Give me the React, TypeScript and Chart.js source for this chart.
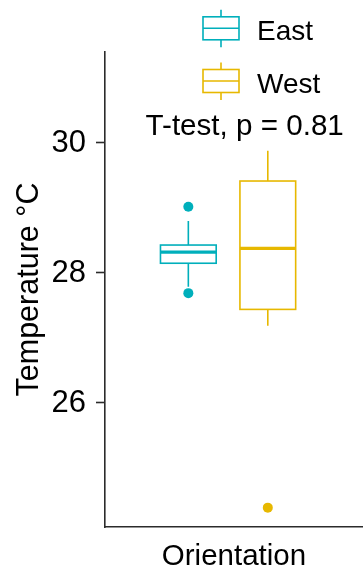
import React, { useEffect, useRef } from 'react';
import { Chart, registerables } from 'chart.js';

Chart.register(...registerables);

// Summary statistics per orientation
const groups = ['East', 'West'];
const groupColors = ['#00AFBB', '#E7B800'];
const lowerWhisker = [27.79, 27.19];
const q1 = [28.15, 27.44];
const median = [28.32, 28.38];
const q3 = [28.43, 29.415];
const upperWhisker = [28.8, 29.88];
const outliers = [[29.02, 27.69], [24.39]];

const yTicks = [26, 28, 30];
const testLabel = 'T-test, p = 0.81';
const xTitle = 'Orientation';
const yTitle = 'Temperature °C';

// dodged group positions on a 0..1 x range
const groupX = [0.323, 0.631];
const halfBox = 0.108;
const FONT = "Arial, 'Liberation Sans', sans-serif";

const boxPlugin = {
  id: 'boxes',
  beforeDatasetsDraw(chart: any) {
    const { ctx, scales } = chart;
    const xs = scales.x;
    const ys = scales.y;
    ctx.save();
    groups.forEach((_, i) => {
      const c = groupColors[i];
      const cx = xs.getPixelForValue(groupX[i]);
      const l = xs.getPixelForValue(groupX[i] - halfBox);
      const r = xs.getPixelForValue(groupX[i] + halfBox);
      const yq1 = ys.getPixelForValue(q1[i]);
      const yq3 = ys.getPixelForValue(q3[i]);
      const ymed = ys.getPixelForValue(median[i]);
      const ylo = ys.getPixelForValue(lowerWhisker[i]);
      const yhi = ys.getPixelForValue(upperWhisker[i]);
      ctx.strokeStyle = c;
      ctx.lineWidth = 1.6;
      ctx.beginPath();
      ctx.moveTo(cx, yhi);
      ctx.lineTo(cx, yq3);
      ctx.moveTo(cx, yq1);
      ctx.lineTo(cx, ylo);
      ctx.stroke();
      ctx.fillStyle = '#ffffff';
      ctx.fillRect(l, yq3, r - l, yq1 - yq3);
      ctx.strokeRect(l, yq3, r - l, yq1 - yq3);
      ctx.lineWidth = 3.2;
      ctx.beginPath();
      ctx.moveTo(l, ymed);
      ctx.lineTo(r, ymed);
      ctx.stroke();
    });
    ctx.restore();
  },
  afterDraw(chart: any) {
    const { ctx, scales } = chart;
    ctx.save();
    // legend with box glyphs
    const iconL = 203;
    const iconR = 239;
    const iconC = (iconL + iconR) / 2;
    groups.forEach((g, i) => {
      const mid = 28.3 + i * 52.7;
      ctx.strokeStyle = groupColors[i];
      ctx.lineWidth = 1.6;
      ctx.beginPath();
      ctx.moveTo(iconC, mid - 18.5);
      ctx.lineTo(iconC, mid - 11.5);
      ctx.moveTo(iconC, mid + 11.5);
      ctx.lineTo(iconC, mid + 19);
      ctx.moveTo(iconL, mid);
      ctx.lineTo(iconR, mid);
      ctx.stroke();
      ctx.strokeRect(iconL, mid - 11.5, iconR - iconL, 23);
      ctx.fillStyle = '#000';
      ctx.font = `28px ${FONT}`;
      ctx.textAlign = 'left';
      ctx.textBaseline = 'alphabetic';
      ctx.fillText(g, 257, mid + 11.7);
    });
    // test annotation
    ctx.font = `29.6px ${FONT}`;
    ctx.textAlign = 'center';
    ctx.textBaseline = 'alphabetic';
    ctx.fillStyle = '#000';
    ctx.fillText(testLabel, scales.x.getPixelForValue(0.5415), scales.y.getPixelForValue(30.12));
    ctx.restore();
  },
};

export default function App() {
  const ref = useRef<HTMLCanvasElement>(null);
  useEffect(() => {
    document.body.style.margin = '0';
    const canvas = ref.current;
    if (!canvas) return;
    const chart = new Chart(canvas, {
      type: 'scatter',
      data: {
        datasets: groups.map((g, i) => ({
          label: g,
          data: outliers[i].map((y) => ({ x: groupX[i], y })),
          pointRadius: 5,
          pointHoverRadius: 5,
          backgroundColor: groupColors[i],
          borderWidth: 0,
        })),
      },
      options: {
        responsive: false,
        animation: false,
        events: [],
        layout: { autoPadding: false, padding: { top: 52, right: 0, left: 0, bottom: 0 } },
        plugins: { legend: { display: false }, tooltip: { enabled: false } },
        scales: {
          x: {
            type: 'linear',
            min: 0,
            max: 1,
            afterFit: (s: any) => {
              s.height = 45;
            },
            ticks: { display: false },
            grid: { display: true, drawOnChartArea: false, drawTicks: false },
            border: { display: true, color: '#2b2b2b', width: 1.6 },
            title: {
              display: true,
              text: xTitle,
              color: '#000',
              font: { family: FONT, size: 29.5, lineHeight: 1 },
              padding: { top: 0, bottom: 0 },
            },
          },
          y: {
            type: 'linear',
            min: 24.092,
            max: 31.4,
            afterFit: (s: any) => {
              s.width = 105;
            },
            afterBuildTicks: (s: any) => {
              s.ticks = yTicks.map((v) => ({ value: v }));
            },
            ticks: {
              color: '#000',
              padding: 10,
              font: { family: FONT, size: 31 },
            },
            grid: {
              display: true,
              drawOnChartArea: false,
              drawTicks: true,
              tickLength: 9,
              tickColor: '#2b2b2b',
              tickWidth: 1.6,
            },
            border: { display: true, color: '#2b2b2b', width: 1.6 },
            title: {
              display: true,
              text: yTitle,
              color: '#000',
              font: { family: FONT, size: 30.5, lineHeight: 1 },
              padding: { top: 14.5, bottom: 0 },
            },
          },
        },
      },
      plugins: [boxPlugin],
    });
    return () => chart.destroy();
  }, []);
  return (
    <div style={{ width: 363, height: 572 }}>
      <canvas ref={ref} width={363} height={572} style={{ display: 'block' }} />
    </div>
  );
}
